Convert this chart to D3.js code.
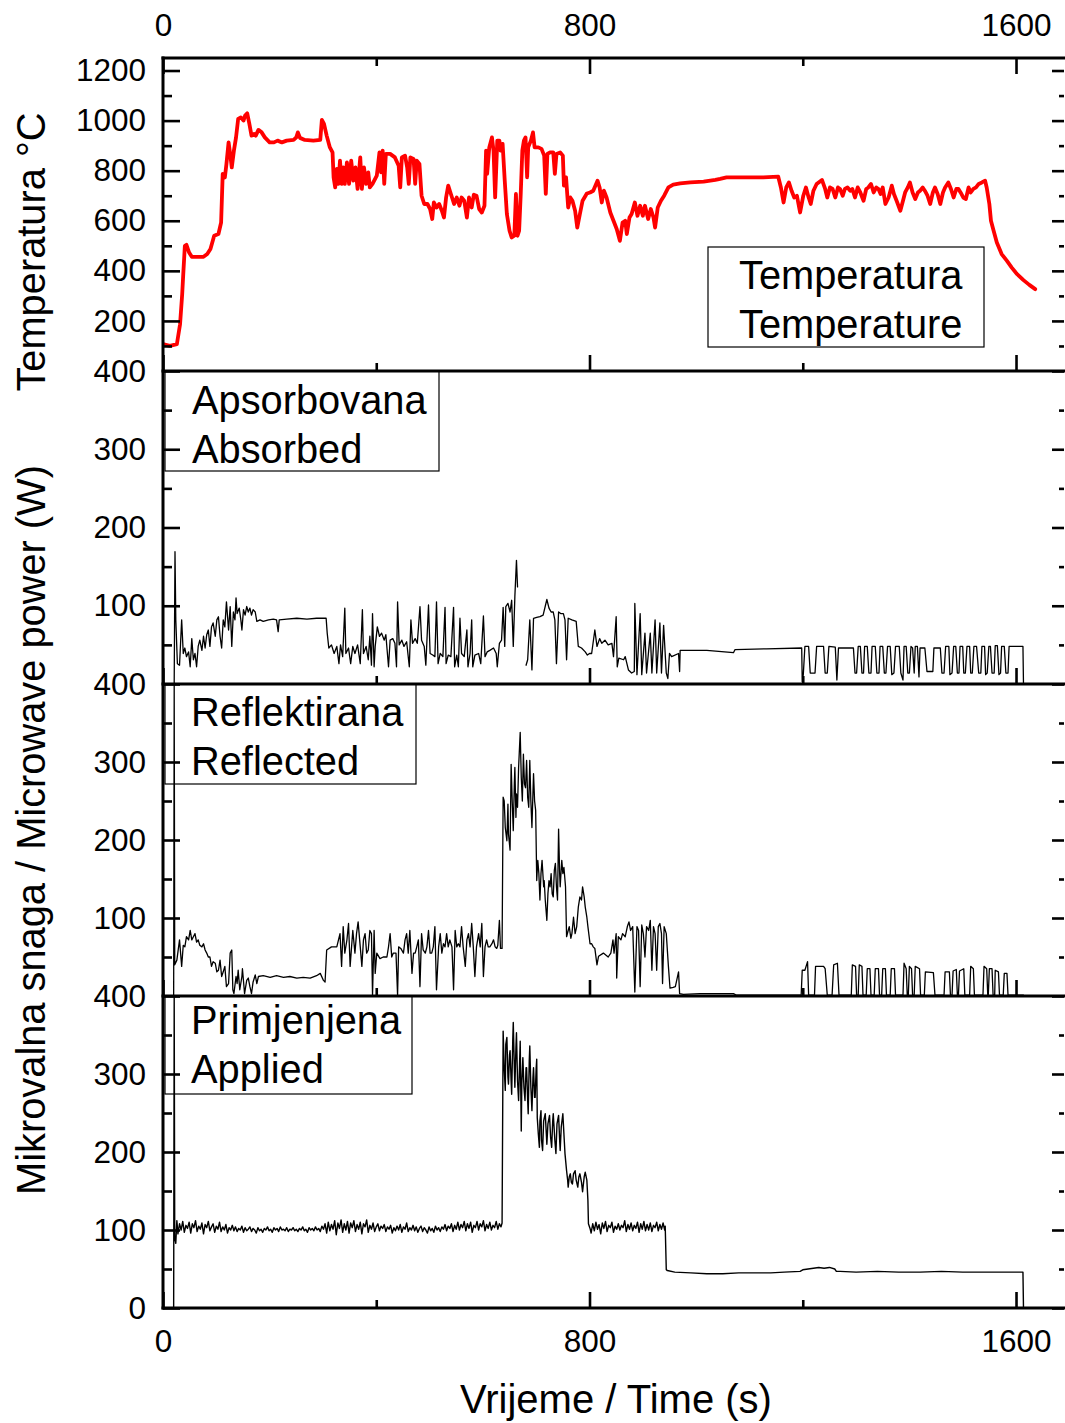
<!DOCTYPE html>
<html><head><meta charset="utf-8">
<script src="https://cdn.jsdelivr.net/npm/d3@7"></script>
<style>body{margin:0;background:#fff}svg{display:block}</style>
</head><body>
<svg id="chart" width="1065" height="1423"></svg>
<script>
// ---------- DATA ----------
const timeDomain = [0, 1690];
const timeLabelTicks = [0, 800, 1600];
const timeMinorTicks = [400, 1200];
const tempLabelTicks = [200, 400, 600, 800, 1000, 1200];
const tempMinorTicks = [100, 300, 500, 700, 900, 1100];
const powerLabelTicks = [100, 200, 300, 400];
const powerLabelTicksBottom = [0, 100, 200, 300, 400];
const powerMinorTicks = [50, 150, 250, 350];
const legendTemperature = ["Temperatura", "Temperature"];
const legendAbsorbed = ["Apsorbovana", "Absorbed"];
const legendReflected = ["Reflektirana", "Reflected"];
const legendApplied = ["Primjenjena", "Applied"];
const xTitle = "Vrijeme / Time (s)";
const yTitleTemp = "Temperatura °C";
const yTitlePower = "Mikrovalna snaga / Microwave power (W)";

// temperature [time s, °C]
const temperature = [[0,107],[13,100],[26,107],[32,187],[36,307],[38,387],[41,500],[44,504],[49,473],[54,456],[76,456],[83,467],[89,487],[96,540],[104,547],[109,593],[112,787],[116,773],[119,827],[123,913],[126,867],[129,813],[133,880],[137,933],[141,1007],[146,1013],[151,1000],[154,1020],[158,1029],[162,987],[166,940],[171,947],[174,940],[179,963],[185,953],[191,933],[200,913],[208,913],[215,920],[223,913],[232,920],[245,923],[250,933],[253,953],[257,931],[266,923],[282,920],[295,923],[298,1003],[302,987],[307,940],[313,893],[318,873],[320,773],[323,733],[326,807],[329,747],[332,840],[335,747],[338,813],[341,747],[345,833],[349,747],[353,840],[357,760],[361,813],[365,727],[370,853],[373,727],[377,813],[381,747],[385,793],[388,733],[393,747],[401,780],[406,873],[409,793],[412,880],[415,747],[418,867],[426,867],[435,853],[442,820],[445,733],[448,853],[454,860],[458,813],[461,747],[464,853],[470,847],[473,747],[476,840],[481,827],[485,700],[490,667],[496,667],[501,647],[505,607],[508,673],[513,653],[518,667],[523,640],[527,613],[531,693],[535,740],[540,707],[546,667],[551,693],[556,660],[560,693],[565,680],[570,613],[574,693],[579,653],[583,704],[588,700],[593,647],[598,633],[603,660],[606,880],[608,787],[612,893],[617,933],[620,880],[623,693],[627,920],[631,920],[633,880],[637,907],[641,760],[645,627],[650,560],[654,533],[659,540],[662,707],[665,540],[668,560],[671,707],[674,880],[677,920],[680,933],[683,773],[685,893],[690,920],[694,953],[697,893],[704,893],[710,887],[715,860],[718,707],[721,867],[726,873],[732,873],[735,787],[738,867],[745,873],[750,860],[752,740],[756,773],[760,653],[764,693],[768,680],[773,640],[777,573],[782,627],[787,680],[795,709],[801,713],[807,720],[815,760],[819,733],[823,673],[827,720],[832,693],[839,633],[845,600],[851,567],[857,520],[862,593],[867,600],[870,547],[875,613],[879,627],[885,673],[890,620],[895,660],[900,620],[904,660],[910,607],[915,647],[920,613],[923,573],[928,653],[934,680],[940,700],[948,733],[957,744],[970,749],[989,753],[1014,756],[1036,763],[1045,767],[1057,773],[1089,773],[1126,773],[1154,776],[1159,733],[1164,673],[1169,733],[1174,753],[1179,720],[1184,693],[1189,700],[1195,633],[1201,700],[1206,733],[1211,693],[1215,667],[1220,720],[1226,747],[1236,763],[1242,727],[1246,693],[1251,733],[1256,727],[1261,693],[1266,733],[1270,727],[1275,700],[1279,727],[1284,733],[1289,720],[1293,727],[1298,693],[1303,733],[1308,713],[1314,680],[1319,727],[1323,733],[1328,747],[1333,713],[1338,733],[1342,727],[1346,707],[1350,733],[1355,667],[1361,693],[1367,740],[1371,707],[1376,680],[1383,640],[1388,680],[1392,713],[1397,733],[1401,753],[1406,713],[1411,687],[1416,713],[1420,720],[1425,733],[1429,720],[1434,700],[1439,667],[1444,713],[1448,733],[1453,707],[1458,667],[1463,713],[1467,733],[1473,753],[1478,727],[1483,693],[1488,727],[1492,727],[1496,713],[1501,693],[1506,687],[1511,733],[1515,713],[1520,727],[1525,733],[1530,747],[1536,753],[1542,760],[1545,733],[1550,667],[1553,600],[1558,560],[1564,513],[1573,467],[1583,440],[1592,413],[1601,389],[1614,363],[1625,344],[1636,327]];

// absorbed power [time s, W]; null = gap in the record
const absorbed = [[0,0],[21,0],[22.5,169],[24,82],[27,26],[31,24],[35,82],[38,39],[41,46],[44,35],[48,41],[51,22],[54,58],[57,31],[60,39],[63,22],[66,48],[69,56],[73,43],[76,61],[79,46],[82,63],[85,69],[88,48],[91,73],[94,78],[98,61],[101,82],[104,86],[107,61],[110,46],[113,82],[116,73],[119,105],[123,69],[126,99],[129,48],[132,92],[135,82],[137,110],[139,90],[143,97],[146,82],[148,69],[151,95],[154,88],[157,99],[160,92],[163,97],[166,88],[169,95],[173,92],[176,80],[182,82],[188,80],[198,82],[207,83],[213,82],[216,67],[218,82],[232,83],[251,84],[270,83],[288,84],[301,84],[306,84],[308,65],[311,46],[316,50],[321,39],[326,48],[330,26],[333,50],[337,35],[341,97],[343,39],[348,46],[352,26],[356,48],[360,39],[365,50],[370,26],[374,95],[376,39],[381,48],[385,31],[388,61],[391,24],[393,90],[396,22],[398,48],[402,73],[406,61],[410,65],[415,56],[418,63],[423,22],[426,56],[431,58],[435,52],[438,22],[440,105],[443,50],[448,56],[452,48],[457,54],[462,22],[465,82],[468,52],[473,58],[477,52],[482,99],[485,56],[490,48],[493,24],[498,101],[501,39],[506,37],[510,35],[513,105],[516,26],[520,39],[525,35],[529,98],[531,26],[535,37],[540,35],[545,98],[547,22],[551,37],[554,22],[557,84],[560,39],[565,35],[570,69],[572,22],[576,39],[579,82],[581,22],[585,37],[592,39],[596,26],[601,87],[604,35],[608,41],[613,43],[620,46],[625,39],[627,22],[631,52],[635,56],[638,98],[641,48],[643,99],[647,103],[651,92],[654,107],[657,48],[660,112],[663,158],[665,124],[665.5,null],[681,24],[684,31],[688,82],[692,18],[695,84],[701,85],[707,86],[713,88],[720,108],[724,97],[728,92],[732,92],[735,82],[738,26],[742,92],[746,90],[751,90],[754,82],[757,31],[760,84],[767,82],[775,80],[779,48],[785,46],[792,41],[796,37],[800,39],[804,39],[810,69],[814,48],[819,58],[823,52],[829,56],[835,50],[842,52],[845,35],[850,86],[852,22],[855,33],[864,31],[867,35],[873,18],[879,14],[884,16],[885,103],[889,12],[895,90],[898,12],[904,65],[907,14],[914,65],[917,14],[923,82],[926,14],[932,78],[935,14],[939,75],[944,14],[947,7],[950,39],[954,35],[967,39],[969,16],[970,43],[1020,43],[1070,40],[1073,44],[1132,45],[1198,46],[1199,3],[1201,12],[1204,48],[1211,48],[1214,14],[1223,14],[1226,48],[1239,48],[1242,14],[1246,14],[1249,48],[1261,47],[1264,5],[1267,46],[1295,46],[1298,14],[1301,14],[1304,48],[1308,48],[1311,14],[1314,14],[1316,48],[1321,48],[1324,14],[1328,14],[1330,48],[1336,48],[1339,14],[1343,14],[1345,48],[1350,48],[1353,14],[1356,14],[1359,48],[1364,48],[1367,12],[1371,14],[1374,48],[1381,48],[1384,14],[1388,5],[1390,48],[1394,48],[1397,14],[1400,14],[1403,48],[1406,46],[1409,14],[1411,48],[1415,48],[1418,9],[1420,46],[1429,46],[1433,16],[1444,16],[1446,46],[1458,46],[1461,14],[1465,14],[1468,48],[1474,48],[1476,12],[1480,14],[1483,48],[1487,48],[1490,14],[1493,14],[1495,48],[1500,48],[1502,14],[1505,14],[1508,48],[1513,48],[1515,14],[1518,14],[1521,48],[1526,48],[1530,14],[1534,14],[1536,48],[1541,48],[1543,12],[1546,14],[1549,48],[1552,48],[1555,14],[1559,14],[1561,49],[1565,49],[1568,12],[1571,14],[1573,48],[1578,48],[1581,14],[1585,14],[1587,48],[1613,48],[1614,0]];

// reflected power [time s, W]
const reflected = [[0,0],[20,0],[21,400],[22,40],[26,46],[31,72],[35,38],[38,65],[41,63],[44,76],[48,72],[51,84],[54,72],[57,76],[60,80],[63,69],[66,72],[69,65],[73,63],[76,67],[79,59],[82,55],[85,50],[88,50],[91,38],[94,44],[98,42],[101,31],[104,33],[107,46],[110,25],[113,31],[116,38],[119,12],[123,16],[126,55],[129,59],[131,8],[133,3],[137,25],[139,16],[141,33],[144,8],[148,25],[149,35],[153,3],[157,20],[160,23],[163,12],[166,3],[169,18],[173,27],[176,16],[179,25],[188,26],[201,24],[213,26],[226,24],[238,25],[251,23],[263,24],[276,23],[288,26],[295,29],[301,20],[304,18],[307,59],[316,63],[326,63],[332,80],[335,38],[338,89],[341,55],[345,72],[348,93],[351,38],[356,84],[360,55],[363,80],[366,95],[370,63],[373,38],[376,72],[379,80],[382,55],[385,59],[388,84],[391,80],[393,1],[396,84],[398,29],[401,55],[407,48],[413,50],[420,50],[423,63],[426,80],[429,50],[432,55],[437,55],[440,1],[442,63],[446,61],[451,55],[454,72],[457,80],[460,55],[463,84],[467,29],[470,55],[473,55],[476,63],[479,72],[482,12],[485,80],[488,59],[492,55],[495,63],[498,84],[501,55],[504,55],[507,63],[510,89],[513,8],[517,63],[520,80],[523,55],[526,67],[529,63],[532,80],[535,63],[538,72],[542,63],[545,8],[548,84],[551,63],[554,67],[557,63],[560,89],[563,63],[567,38],[570,72],[573,80],[576,63],[579,93],[582,63],[585,25],[588,63],[592,80],[595,63],[598,93],[601,25],[604,63],[607,72],[610,63],[613,63],[617,67],[620,72],[623,63],[626,61],[628,65],[631,97],[633,61],[636,61],[638,255],[640,250],[642,216],[645,199],[647,246],[648,208],[651,187],[653,297],[655,250],[657,212],[659,272],[660,293],[662,229],[663,259],[665,242],[667,293],[670,338],[672,280],[674,250],[676,310],[678,272],[680,267],[682,302],[684,255],[686,242],[688,302],[690,250],[692,216],[695,285],[697,250],[699,238],[701,148],[703,174],[705,157],[707,123],[709,157],[711,174],[714,140],[715,148],[717,123],[720,97],[722,131],[724,148],[726,140],[728,157],[730,131],[732,127],[734,161],[736,170],[738,140],[740,123],[742,214],[744,157],[745,140],[748,174],[750,157],[752,165],[755,140],[757,76],[760,84],[762,89],[765,74],[767,80],[770,101],[773,80],[776,89],[779,114],[782,127],[785,123],[787,140],[790,127],[792,114],[795,101],[797,89],[801,67],[804,67],[807,63],[810,61],[814,40],[817,51],[826,55],[835,50],[840,55],[844,72],[846,55],[850,80],[851,23],[854,76],[859,72],[862,80],[867,76],[871,89],[874,95],[877,84],[881,89],[885,5],[889,89],[892,84],[895,12],[898,91],[901,80],[904,50],[907,89],[911,84],[914,97],[917,33],[920,89],[923,80],[926,33],[929,89],[932,93],[935,80],[937,16],[940,89],[944,80],[948,38],[951,10],[957,11],[961,12],[967,31],[969,3],[976,2],[1007,3],[1039,3],[1070,3],[1076,1],[1114,1],[1176,1],[1197,1],[1199,33],[1204,33],[1209,44],[1211,1],[1222,1],[1224,38],[1239,38],[1242,35],[1246,1],[1255,1],[1258,40],[1265,42],[1268,1],[1291,1],[1293,40],[1299,38],[1301,1],[1304,1],[1306,40],[1311,38],[1313,1],[1319,1],[1321,35],[1326,35],[1328,1],[1334,1],[1336,35],[1342,35],[1344,1],[1348,1],[1350,35],[1355,35],[1357,1],[1364,1],[1366,35],[1372,35],[1374,1],[1388,1],[1390,42],[1394,35],[1396,1],[1398,1],[1400,38],[1404,35],[1406,1],[1409,1],[1411,38],[1419,35],[1421,1],[1428,1],[1430,31],[1445,30],[1448,1],[1465,1],[1467,31],[1475,31],[1477,1],[1480,1],[1482,32],[1488,34],[1490,1],[1492,1],[1494,32],[1502,35],[1504,1],[1513,1],[1515,38],[1520,35],[1522,1],[1538,1],[1540,38],[1545,35],[1547,1],[1548,1],[1550,35],[1555,35],[1557,1],[1560,1],[1561,33],[1567,31],[1569,1],[1576,1],[1578,29],[1583,29],[1585,1],[1614,1]];

// applied power [time s, W]
const applied = [[0,0],[20,0],[21,400],[22,90],[24,83],[26,112],[28,95],[31,108],[34,100],[37,111],[40,97],[43,106],[46,102],[49,110],[52,96],[55,108],[58,103],[61,112],[64,98],[67,105],[70,101],[73,109],[76,95],[79,107],[82,103],[85,111],[88,99],[91,104],[94,108],[97,97],[100,105],[103,101],[106,110],[109,98],[112,104],[115,100],[118,107],[121,96],[124,103],[127,100],[130,106],[133,99],[136,104],[139,98],[142,102],[145,100],[148,105],[151,97],[154,103],[157,99],[160,101],[163,104],[166,98],[169,102],[172,100],[175,96],[178,103],[181,99],[184,101],[187,97],[190,102],[193,100],[196,104],[199,99],[202,101],[205,97],[208,103],[211,100],[214,102],[217,98],[220,104],[223,100],[226,101],[229,99],[232,103],[235,98],[238,101],[241,100],[244,103],[247,99],[250,101],[253,98],[256,102],[259,100],[262,104],[265,99],[268,101],[271,97],[274,103],[277,100],[280,102],[283,99],[286,104],[289,100],[292,102],[295,98],[298,105],[301,101],[304,108],[307,96],[310,110],[313,99],[316,107],[319,101],[322,112],[325,94],[328,109],[331,102],[334,113],[337,97],[340,108],[343,100],[346,111],[349,96],[352,109],[355,103],[358,112],[361,98],[364,107],[367,101],[370,110],[373,95],[376,108],[379,104],[382,113],[385,97],[388,106],[391,101],[394,109],[397,98],[400,104],[403,108],[406,99],[409,105],[412,102],[415,107],[418,98],[421,104],[424,101],[427,106],[430,96],[433,103],[436,99],[439,105],[442,100],[445,107],[448,97],[451,104],[454,101],[457,109],[460,98],[463,103],[466,100],[469,106],[472,99],[475,104],[478,97],[481,102],[484,105],[487,98],[490,103],[493,100],[496,96],[499,104],[502,99],[505,102],[508,97],[511,105],[514,100],[517,103],[520,98],[523,104],[526,101],[529,107],[532,99],[535,105],[538,102],[541,108],[544,98],[547,106],[550,101],[553,110],[556,100],[559,107],[562,103],[565,111],[568,99],[571,108],[574,102],[577,110],[580,97],[583,106],[586,103],[589,111],[592,100],[595,108],[598,104],[601,112],[604,99],[607,107],[610,102],[613,110],[616,100],[619,106],[622,103],[625,111],[628,101],[631,108],[634,104],[636,109],[638,355],[640,308],[642,279],[643,338],[645,347],[647,296],[648,287],[650,325],[651,330],[653,291],[654,274],[656,342],[657,366],[659,308],[660,283],[662,334],[663,353],[665,291],[667,266],[669,317],[670,342],[672,227],[673,287],[675,321],[677,283],[679,266],[681,308],[682,308],[684,266],[685,249],[687,317],[688,336],[690,283],[692,253],[694,296],[695,308],[697,270],[698,270],[700,308],[701,319],[702,244],[704,223],[706,206],[707,240],[709,253],[710,215],[712,202],[714,240],[717,249],[719,223],[720,210],[722,236],[725,247],[727,219],[729,206],[731,240],[732,249],[735,215],[737,198],[739,236],[742,247],[744,215],[745,202],[747,232],[750,249],[752,223],[754,198],[757,176],[759,164],[760,155],[762,168],[764,172],[766,161],[768,159],[770,172],[773,176],[775,164],[778,155],[780,168],[782,172],[785,161],[787,149],[790,168],[792,174],[795,164],[797,138],[798,108],[801,102],[803,96],[806,108],[809,99],[812,110],[815,101],[818,107],[821,95],[824,109],[827,102],[830,111],[833,98],[836,106],[839,103],[842,110],[845,97],[848,105],[851,101],[854,108],[857,100],[860,106],[863,103],[866,112],[869,98],[872,107],[875,101],[878,109],[881,99],[884,106],[887,102],[890,110],[893,97],[896,108],[899,101],[902,111],[905,99],[908,107],[911,100],[914,109],[917,98],[920,106],[923,103],[926,110],[929,99],[932,107],[935,101],[938,109],[941,100],[942,105],[944,49],[946,48],[960,46],[990,45],[1020,44],[1050,44],[1080,45],[1110,45],[1140,45],[1165,46],[1195,47],[1200,49],[1210,50],[1220,51],[1230,52],[1240,51],[1250,52],[1260,50],[1263,47],[1270,47],[1300,46],[1340,47],[1380,46],[1420,46],[1460,47],[1500,46],[1540,46],[1580,46],[1613,46],[1614,0]];

// ---------- DRAWING ----------
const svg = d3.select("#chart");
const FONT = "'Liberation Sans', Arial, Helvetica, sans-serif";
const L = 163, R = 1064;
const x = d3.scaleLinear().domain(timeDomain).range([L, R]);

const panels = [
  {top:58, bottom:371, ymax:1250, data:temperature, color:"#ff0000", lw:3.8,
   labels:tempLabelTicks, minors:tempMinorTicks, legend:legendTemperature,
   box:[708,247,276,100], tx:739, tb:[289,338]},
  {top:371, bottom:684, ymax:400, data:absorbed, color:"#000", lw:1.3,
   labels:powerLabelTicks, minors:powerMinorTicks, legend:legendAbsorbed,
   box:[165,371,274,100], tx:192, tb:[414,463]},
  {top:684, bottom:996, ymax:400, data:reflected, color:"#000", lw:1.3,
   labels:powerLabelTicks, minors:powerMinorTicks, legend:legendReflected,
   box:[165,684,251,100], tx:191, tb:[726,775]},
  {top:996, bottom:1308, ymax:400, data:applied, color:"#000", lw:1.4,
   labels:powerLabelTicksBottom, minors:powerMinorTicks, legend:legendApplied,
   box:[165,996,247,98], tx:191, tb:[1034,1083]}
];

function styleAxis(g, size) {
  g.select(".domain").remove();
  g.selectAll(".tick line").attr("stroke", "#000").attr("stroke-width", 2.6);
  g.selectAll(".tick text").attr("font-family", FONT).attr("font-size", size).attr("fill", "#000");
}

panels.forEach((p, i) => {
  const y = d3.scaleLinear().domain([0, p.ymax]).range([p.bottom, p.top]);
  const clipId = "clip" + i;
  svg.append("clipPath").attr("id", clipId).append("rect")
    .attr("x", L).attr("y", p.top).attr("width", R - L + 2).attr("height", p.bottom - p.top);

  const line = d3.line().defined(d => d[1] !== null).x(d => x(d[0])).y(d => y(d[1]));
  svg.append("path").datum(p.data)
    .attr("clip-path", `url(#${clipId})`)
    .attr("fill", "none").attr("stroke", p.color).attr("stroke-width", p.lw)
    .attr("stroke-linejoin", "round").attr("stroke-linecap", "round")
    .attr("d", line);

  // left axis
  svg.append("g").attr("transform", `translate(${L},0)`)
    .call(d3.axisLeft(y).tickValues(p.labels).tickSize(-17).tickPadding(17).tickFormat(d3.format("d")))
    .call(g => styleAxis(g, 31.5));
  svg.append("g").attr("transform", `translate(${L},0)`)
    .call(d3.axisLeft(y).tickValues(p.minors).tickSize(-9).tickFormat(""))
    .call(g => styleAxis(g, 31.5));
  // right axis
  svg.append("g").attr("transform", `translate(${R},0)`)
    .call(d3.axisRight(y).tickValues(p.labels).tickSize(-12).tickFormat(""))
    .call(g => styleAxis(g, 31.5));
  svg.append("g").attr("transform", `translate(${R},0)`)
    .call(d3.axisRight(y).tickValues(p.minors).tickSize(-5).tickFormat(""))
    .call(g => styleAxis(g, 31.5));
  // bottom ticks
  const isLast = i === panels.length - 1;
  svg.append("g").attr("transform", `translate(0,${p.bottom})`)
    .call(d3.axisBottom(x).tickValues(timeLabelTicks).tickSize(-16).tickPadding(22)
      .tickFormat(isLast ? d3.format("d") : ""))
    .call(g => styleAxis(g, 31.5));
  svg.append("g").attr("transform", `translate(0,${p.bottom})`)
    .call(d3.axisBottom(x).tickValues(timeMinorTicks).tickSize(-8).tickFormat(""))
    .call(g => styleAxis(g, 31.5));
  if (i === 0) {
    svg.append("g").attr("transform", `translate(0,${p.top})`)
      .call(d3.axisTop(x).tickValues(timeLabelTicks).tickSize(-16).tickPadding(22).tickFormat(d3.format("d")))
      .call(g => styleAxis(g, 31.5));
    svg.append("g").attr("transform", `translate(0,${p.top})`)
      .call(d3.axisTop(x).tickValues(timeMinorTicks).tickSize(-8).tickFormat(""))
      .call(g => styleAxis(g, 31.5));
  }

  // legend
  svg.append("rect").attr("x", p.box[0]).attr("y", p.box[1]).attr("width", p.box[2]).attr("height", p.box[3])
    .attr("fill", "none").attr("stroke", "#000").attr("stroke-width", 1.2);
  p.legend.forEach((t, k) => {
    svg.append("text").attr("x", p.tx).attr("y", p.tb[k])
      .attr("font-family", FONT).attr("font-size", 39.8).attr("fill", "#000").text(t);
  });
});

// frame lines
const frame = svg.append("g").attr("stroke", "#000").attr("stroke-width", 3).attr("stroke-linecap", "square");
frame.append("line").attr("x1", L).attr("x2", 1066).attr("y1", 58).attr("y2", 58);
panels.forEach(p => frame.append("line").attr("x1", L).attr("x2", 1066).attr("y1", p.bottom).attr("y2", p.bottom));
frame.append("line").attr("x1", L).attr("x2", L).attr("y1", 58).attr("y2", 1308);

// titles
svg.append("text").attr("x", 616).attr("y", 1413).attr("text-anchor", "middle")
  .attr("font-family", FONT).attr("font-size", 40).text(xTitle);
svg.append("text").attr("transform", "translate(45,252) rotate(-90)").attr("text-anchor", "middle")
  .attr("font-family", FONT).attr("font-size", 39.8).text(yTitleTemp);
svg.append("text").attr("transform", "translate(45,830) rotate(-90)").attr("text-anchor", "middle")
  .attr("font-family", FONT).attr("font-size", 39.8).text(yTitlePower);
</script>
</body></html>
